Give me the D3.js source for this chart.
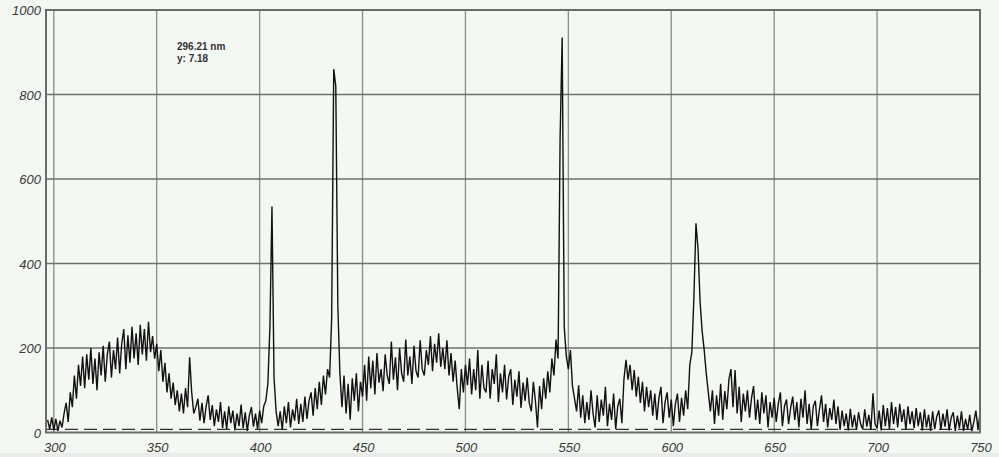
<!DOCTYPE html>
<html>
<head>
<meta charset="utf-8">
<script src="https://cdn.jsdelivr.net/npm/d3@7"></script>
<style>
  body { margin: 0; background: #f4f8f2; }
  svg { display: block; }
</style>
</head>
<body>
<svg width="999" height="457"></svg>
<script>
// spectrum, one reading per nm starting at 297 nm
var startNm = 297;
var stepNm = 1;
var intensity = [
    30, 8, 36,
    5, 32, 4, 28, 12, 45, 70, 25, 95, 60,
    135, 80, 160, 110, 180, 105, 185, 125, 200, 115,
    175, 100, 190, 135, 205, 120, 185, 215, 130, 195,
    150, 225, 140, 210, 245, 150, 230, 165, 250, 175,
    235, 160, 255, 185, 245, 170, 262, 190, 228, 175,
    210, 145, 195, 120, 165, 95, 140, 80, 118, 65,
    100, 50, 92, 45, 105, 60, 178, 95, 45, 60,
    80, 28, 70, 22, 62, 88, 30, 65, 15, 55,
    25, 72, 10, 50, 8, 62, 22, 52, 5, 45,
    15, 66, 10, 48, 4, 40, 60, 14, 45, 8,
    52, 22, 62, 75, 115, 250, 535, 130, 50, 15,
    50, 6, 62, 22, 72, 12, 55, 28, 80, 20,
    68, 25, 85, 32, 75, 95, 40, 105, 55, 120,
    65, 135, 90, 150, 130, 270, 860, 820, 300, 140,
    60, 135, 45, 115, 30, 128, 75, 140, 50, 120,
    85, 160, 75, 180, 105, 170, 90, 188, 118, 150,
    98, 185, 135, 115, 215, 125, 178, 100, 200, 140,
    120, 220, 135, 180, 115, 205, 145, 130, 218, 150,
    135, 195, 160, 228, 145, 210, 165, 235, 155, 200,
    150, 218, 135, 188, 120, 170, 105, 55, 150, 95,
    160, 112, 175, 90, 150, 100, 195, 80, 160, 105,
    95, 170, 80, 150, 115, 185, 72, 140, 95, 160,
    78, 132, 150, 65, 125, 85, 145, 58, 118, 75,
    130, 70, 50, 120, 75, 12, 110, 55, 128, 80,
    145, 95, 175, 135, 220, 175, 700, 935, 250, 180,
    150, 195, 110, 80, 50, 112, 35, 88, 22, 72,
    30, 100, 45, 12, 88, 25, 78, 40, 108, 15,
    68, 30, 92, 8, 62, 80, 22, 125, 172, 125,
    160, 100, 148, 85, 132, 70, 120, 50, 108, 60,
    100, 40, 92, 30, 82, 108, 22, 72, 95, 35,
    78, 15, 68, 92, 25, 82, 40, 100, 55, 160,
    190, 320, 495, 435, 310, 240, 195, 140, 95, 50,
    100, 20, 88, 40, 115, 30, 98, 55, 125, 150,
    60, 148, 45, 108, 25, 92, 50, 100, 35, 82,
    110, 30, 78, 20, 95, 45, 88, 12, 72, 35,
    82, 25, 68, 95, 15, 62, 78, 20, 58, 85,
    30, 72, 12, 80, 35, 100, 20, 68, 8, 62,
    75, 15, 55, 88, 25, 68, 12, 58, 30, 78,
    20, 62, 6, 52, 15, 45, 5, 56, 12, 42,
    6, 48, 20, 8, 55, 14, 42, 6, 93, 20,
    10, 52, 5, 65, 15, 58, 8, 72, 20, 60,
    12, 68, 25, 55, 6, 62, 20, 50, 10, 58,
    15, 48, 5, 55, 12, 42, 4, 50, 8, 38,
    52, 6, 45, 14, 55, 5, 35, 48, 4, 40,
    10, 50, 4, 32, 6, 42, 3, 25, 52, 8,
    45
];

var xTicks = [300, 350, 400, 450, 500, 550, 600, 650, 700, 750];
var yTicks = [0, 200, 400, 600, 800, 1000];
var cursorNm = 296.21;
var cursorY = 7.18;

var svg = d3.select("svg");
var plotLeft = 46, plotRight = 980, plotTop = 10, plotBottom = 432.5;

var x = d3.scaleLinear().domain([cursorNm, 750]).range([plotLeft, plotRight]);
var y = d3.scaleLinear().domain([0, 1000]).range([plotBottom, plotTop]);

svg.append("rect")
    .attr("x", 0).attr("y", 453).attr("width", 999).attr("height", 4)
    .attr("fill", "#e9ece8");

// grid
svg.append("g")
    .selectAll("line")
    .data(xTicks.filter(function (d) { return d < 750; }))
    .enter()
    .append("line")
    .attr("x1", function (d) { return x(d); })
    .attr("x2", function (d) { return x(d); })
    .attr("y1", plotTop)
    .attr("y2", plotBottom)
    .attr("stroke", "#8a8c8a")
    .attr("stroke-width", 1.3);

svg.append("g")
    .selectAll("line")
    .data(yTicks.filter(function (d) { return d > 0 && d < 1000; }))
    .enter()
    .append("line")
    .attr("x1", plotLeft)
    .attr("x2", plotRight)
    .attr("y1", function (d) { return y(d); })
    .attr("y2", function (d) { return y(d); })
    .attr("stroke", "#6e706e")
    .attr("stroke-width", 1.3);

// cursor level
svg.append("line")
    .attr("x1", plotLeft).attr("x2", plotRight)
    .attr("y1", y(cursorY)).attr("y2", y(cursorY))
    .attr("stroke", "#333")
    .attr("stroke-width", 1.2)
    .attr("stroke-dasharray", "13,6");

var line = d3.line()
    .x(function (d, i) { return x(startNm + i * stepNm); })
    .y(function (d) { return y(d); });

svg.append("path")
    .datum(intensity)
    .attr("d", line)
    .attr("fill", "none")
    .attr("stroke", "#111")
    .attr("stroke-width", 1.4)
    .attr("stroke-linejoin", "bevel");

// frame
svg.append("rect")
    .attr("x", plotLeft).attr("y", plotTop)
    .attr("width", plotRight - plotLeft).attr("height", plotBottom - plotTop)
    .attr("fill", "none")
    .attr("stroke", "#6a6c6a")
    .attr("stroke-width", 2);

// axes labels
svg.append("g")
    .selectAll("text")
    .data(yTicks)
    .enter()
    .append("text")
    .attr("x", 41)
    .attr("y", function (d) { return y(d) + 5; })
    .attr("text-anchor", "end")
    .attr("font-family", "Liberation Sans, Arial, sans-serif")
    .attr("font-style", "italic")
    .attr("font-size", 13)
    .attr("fill", "#3a3a3a")
    .text(function (d) { return d; });

svg.append("g")
    .selectAll("text")
    .data(xTicks)
    .enter()
    .append("text")
    .attr("x", function (d) { return x(d) + 1; })
    .attr("y", 452)
    .attr("text-anchor", "middle")
    .attr("font-family", "Liberation Sans, Arial, sans-serif")
    .attr("font-style", "italic")
    .attr("font-size", 13)
    .attr("fill", "#3a3a3a")
    .text(function (d) { return d; });

// readout
var readout = svg.append("g")
    .attr("font-family", "Liberation Sans, Arial, sans-serif")
    .attr("font-weight", "bold")
    .attr("font-size", 10)
    .attr("fill", "#333");
readout.append("text").attr("x", 177).attr("y", 50).text(cursorNm.toFixed(2) + " nm");
readout.append("text").attr("x", 177).attr("y", 62).text("y: " + cursorY.toFixed(2));
</script>
</body>
</html>
